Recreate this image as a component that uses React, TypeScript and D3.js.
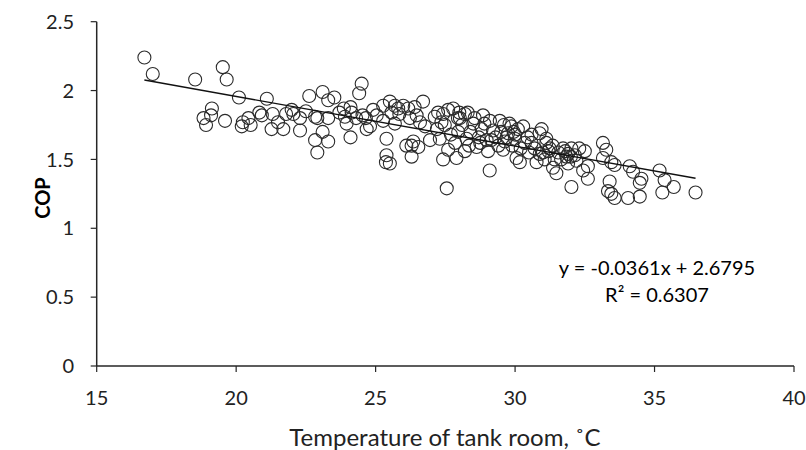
import React from "react";
import * as d3 from "d3";

const temps = [
  16.71, 17.01, 18.53, 19.52, 19.66, 19.13, 19.10, 18.83, 18.92, 19.60,
  20.10, 20.24, 20.44, 20.52, 20.20, 20.83, 20.92, 21.10, 21.31, 21.27,
  21.69, 21.79, 21.99, 22.05, 22.29, 22.29, 22.62, 23.10, 23.30, 23.52,
  22.83, 22.91, 23.30, 23.10, 22.83, 23.30, 22.91, 23.86, 23.90, 23.96,
  24.10, 24.50, 24.41, 24.10, 24.14, 24.53, 24.65, 24.68, 24.80, 24.91,
  25.04, 25.27, 25.39, 25.39, 25.37, 25.51, 25.27, 25.51, 25.69, 25.57,
  25.81, 25.99, 26.17, 25.69, 26.23, 26.29, 26.35, 26.53, 26.29, 26.70,
  26.47, 26.59, 26.77, 26.95, 27.12, 27.24, 27.36, 27.30, 27.42, 27.55,
  27.42, 27.48, 27.60, 27.90, 27.78, 28.02, 28.20, 27.96, 28.26, 28.20,
  28.50, 28.62, 28.85, 28.80, 28.98, 29.03, 29.09, 29.21, 29.45, 29.57,
  29.63, 29.75, 29.87, 29.99, 30.05, 30.29, 30.35, 30.59, 30.59, 30.88,
  30.88, 30.77, 31.12, 30.17, 27.60, 28.00, 28.30, 29.80, 30.95, 31.12,
  31.24, 31.06, 31.42, 31.36, 31.48, 31.72, 31.84, 32.02, 31.90, 32.02,
  32.14, 32.50, 32.44, 32.61, 32.61, 33.15, 33.27, 33.15, 33.45, 33.57,
  33.39, 33.33, 33.45, 33.57, 34.11, 34.23, 34.05, 34.47, 34.47, 34.53,
  35.18, 35.36, 35.69, 35.28, 36.47,
  27.20, 27.70, 27.85, 28.10, 28.40, 28.55, 28.70, 28.90, 29.10, 29.30,
  29.40, 29.50, 29.70, 29.90, 30.00, 30.10, 30.20, 30.45, 30.70, 31.00,
  31.20, 31.35, 31.55, 31.65, 31.80, 32.00, 32.20, 32.30, 29.95, 28.75,
  28.35, 27.95, 29.15, 29.60, 30.50, 31.90, 26.10, 25.85, 26.40, 24.30,
  23.70, 22.50, 21.50
];

const cops = [
  2.24, 2.12, 2.08, 2.17, 2.08, 1.87, 1.82, 1.80, 1.75, 1.78,
  1.95, 1.77, 1.80, 1.75, 1.74, 1.84, 1.82, 1.94, 1.83, 1.72,
  1.72, 1.83, 1.86, 1.83, 1.80, 1.71, 1.96, 1.99, 1.93, 1.95,
  1.81, 1.80, 1.80, 1.70, 1.64, 1.63, 1.55, 1.87, 1.81, 1.76,
  1.66, 2.05, 1.98, 1.88, 1.84, 1.82, 1.80, 1.72, 1.74, 1.86,
  1.82, 1.78, 1.65, 1.53, 1.48, 1.47, 1.89, 1.92, 1.89, 1.84,
  1.87, 1.89, 1.87, 1.76, 1.80, 1.60, 1.63, 1.59, 1.52, 1.92,
  1.82, 1.77, 1.74, 1.64, 1.81, 1.84, 1.77, 1.65, 1.50, 1.29,
  1.83, 1.75, 1.57, 1.51, 1.87, 1.80, 1.83, 1.70, 1.65, 1.56,
  1.76, 1.59, 1.82, 1.72, 1.64, 1.56, 1.42, 1.71, 1.78, 1.57,
  1.63, 1.69, 1.74, 1.65, 1.51, 1.74, 1.62, 1.62, 1.68, 1.69,
  1.54, 1.48, 1.62, 1.48, 1.86, 1.84, 1.84, 1.76, 1.72, 1.65,
  1.58, 1.50, 1.50, 1.44, 1.40, 1.58, 1.52, 1.58, 1.47, 1.30,
  1.53, 1.56, 1.42, 1.36, 1.45, 1.62, 1.57, 1.51, 1.48, 1.46,
  1.34, 1.27, 1.25, 1.22, 1.45, 1.41, 1.22, 1.33, 1.23, 1.36,
  1.42, 1.35, 1.30, 1.26, 1.26,
  1.72, 1.68, 1.62, 1.75, 1.70, 1.80, 1.66, 1.76, 1.78, 1.66,
  1.60, 1.70, 1.66, 1.60, 1.68, 1.72, 1.58, 1.66, 1.58, 1.55,
  1.56, 1.60, 1.55, 1.50, 1.56, 1.52, 1.49, 1.58, 1.70, 1.62,
  1.60, 1.80, 1.64, 1.75, 1.55, 1.54, 1.60, 1.83, 1.88, 1.80,
  1.84, 1.85, 1.77
];

const xTicks = [15, 20, 25, 30, 35, 40];
const yTicks = [0, 0.5, 1, 1.5, 2, 2.5];
const slope = -0.0361;
const intercept = 2.6795;
const eqLabel = "y = -0.0361x + 2.6795";
const r2Label = "R² = 0.6307";
const xTitle = "Temperature of tank room, ˚C";
const yTitle = "COP";

const W = 806;
const H = 450;
const FONT = "Lato, 'Open Sans', sans-serif";

export default function App() {
  const x = d3.scaleLinear().domain([15, 40]).range([96.7, 794]);
  const y = d3.scaleLinear().domain([0, 2.5]).range([366, 21.7]);
  const xMin = d3.min(temps) as number;
  const xMax = d3.max(temps) as number;
  const axisColor = "#262626";
  return (
    <svg
      width={W}
      height={H}
      style={{ position: "absolute", left: 0, top: 0, background: "#fff" }}
      fontFamily={FONT}
    >
      <line x1={x(15)} x2={x(40)} y1={y(0)} y2={y(0)} stroke={axisColor} strokeWidth={1.5} />
      <line x1={x(15)} x2={x(15)} y1={y(0)} y2={y(2.5)} stroke={axisColor} strokeWidth={1.5} />
      {xTicks.map((t) => (
        <g key={"x" + t}>
          <line x1={x(t)} x2={x(t)} y1={y(0)} y2={y(0) + 6} stroke={axisColor} strokeWidth={1.2} />
          <text x={x(t)} y={y(0) + 39} textAnchor="middle" fontSize={20} fill="#222">
            {t}
          </text>
        </g>
      ))}
      {yTicks.map((t) => (
        <g key={"y" + t}>
          <line x1={x(15) - 6} x2={x(15)} y1={y(t)} y2={y(t)} stroke={axisColor} strokeWidth={1.2} />
          <text x={74} y={y(t)} dy="0.36em" textAnchor="end" fontSize={20} fill="#222">
            {t}
          </text>
        </g>
      ))}
      {temps.map((t, i) => (
        <circle
          key={i}
          cx={x(t)}
          cy={y(cops[i])}
          r={6.5}
          fill="none"
          stroke="#2b2b2b"
          strokeWidth={1.1}
        />
      ))}
      <line
        x1={x(xMin)}
        y1={y(slope * xMin + intercept)}
        x2={x(xMax)}
        y2={y(slope * xMax + intercept)}
        stroke="#111"
        strokeWidth={1.4}
      />
      <text x={657} y={275} textAnchor="middle" fontSize={20} fill="#000">
        {eqLabel}
      </text>
      <text x={657} y={302} textAnchor="middle" fontSize={20} fill="#000">
        {r2Label}
      </text>
      <text x={445} y={446} textAnchor="middle" fontSize={24} fill="#222">
        {xTitle}
      </text>
      <text
        transform={`translate(50, ${y(1.22)}) rotate(-90)`}
        textAnchor="middle"
        fontSize={20}
        fontWeight="bold"
        fill="#000"
      >
        {yTitle}
      </text>
    </svg>
  );
}
